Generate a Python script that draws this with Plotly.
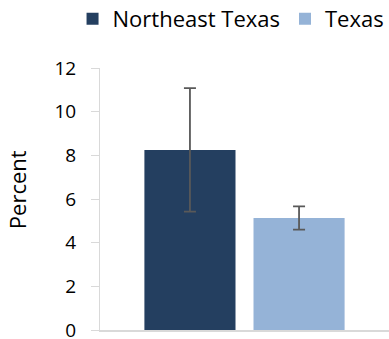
import plotly.graph_objects as go

categories = [""]
series_names = ["Northeast Texas", "Texas"]
values_ne = [8.25]
errors_ne = [2.83]
values_tx = [5.13]
errors_tx = [0.53]
y_ticks = [0, 2, 4, 6, 8, 10, 12]
colors = ["#243F60", "#95B3D7"]

font_family = "Open Sans, sans-serif"

fig = go.Figure()
for name, vals, errs, col in [
    (series_names[0], values_ne, errors_ne, colors[0]),
    (series_names[1], values_tx, errors_tx, colors[1]),
]:
    fig.add_trace(go.Bar(
        x=categories, y=vals, name=name, marker=dict(color=col, line=dict(width=0)),
        error_y=dict(type="data", array=errs, visible=True, color="#595959",
                     thickness=1.8, width=6),
    ))

fig.update_layout(
    width=389, height=339,
    margin=dict(l=100, r=0, t=68, b=9, autoexpand=False),
    paper_bgcolor="white", plot_bgcolor="white",
    barmode="group", bargap=0.245, bargroupgap=0.165,
    font=dict(family=font_family, size=18, color="#000000"),
    showlegend=True,
    legend=dict(orientation="h", xref="paper", yref="paper",
                x=-0.095, xanchor="left", y=1.187, yanchor="middle",
                font=dict(size=22), itemwidth=30, tracegroupgap=0,
                bgcolor="rgba(0,0,0,0)", borderwidth=0),
    yaxis=dict(range=[0, 12], tickvals=y_ticks, showgrid=False, showline=True,
               linecolor="#D9D9D9", linewidth=1, ticks="outside", ticklen=8,
               tickcolor="#D9D9D9", zeroline=False, automargin=False,
               ticklabeloverflow="allow",
               ticklabelstandoff=11, tickfont=dict(size=19)),
    xaxis=dict(showline=True, linecolor="#D9D9D9", linewidth=2, showgrid=False,
               showticklabels=False, ticks="", automargin=False),
    annotations=[dict(text="Percent", xref="paper", yref="paper", x=-0.287, y=0.534,
                      xanchor="center", yanchor="middle", textangle=-90,
                      showarrow=False, font=dict(size=22))],
)

fig.write_html("out.html", config={"displayModeBar": False},
               post_script="document.body.style.margin='0';document.body.style.overflow='hidden';")
